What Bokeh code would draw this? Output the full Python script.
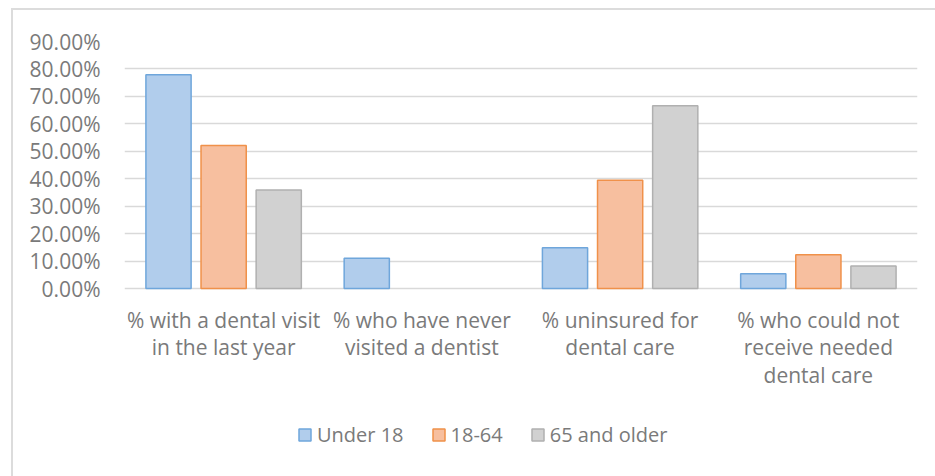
from bokeh.plotting import figure
from bokeh.models import (FactorRange, Range1d, FixedTicker, PrintfTickFormatter,
                          ColumnDataSource, Legend, LegendItem)
from bokeh.transform import dodge
from bokeh.embed import file_html
from bokeh.resources import INLINE

nan = float("nan")
categories = ["% with a dental visit\nin the last year",
              "% who have never\nvisited a dentist",
              "% uninsured for\ndental care",
              "% who could not\nreceive needed\ndental care"]
series_names = ["Under 18", "18-64", "65 and older"]
under_18 = [77.9, 11.1, 14.9, 5.4]
age_18_64 = [52.1, nan, 39.5, 12.3]
age_65_plus = [35.9, nan, 66.6, 8.2]
y_ticks = [0, 10, 20, 30, 40, 50, 60, 70, 80, 90]

FONT = "Open Sans"
GREY_TEXT = "#7a7a7a"
GRID = "#d9d9d9"

src = ColumnDataSource(dict(cat=categories, u18=under_18, a1864=age_18_64, a65=age_65_plus))

# frame: 90% at top, extends below 0 to hold category labels and legend
PX_PER_UNIT = 27.33 / 10.0
frame_h = 476 - 41
y_bottom = 90 - frame_h / PX_PER_UNIT

p = figure(x_range=FactorRange(factors=categories, range_padding=0),
           y_range=Range1d(y_bottom, 90),
           width=924, height=468, output_backend="svg", toolbar_location=None,
           min_border_left=111, min_border_right=20, min_border_top=31, min_border_bottom=0)
p.margin = (8, 0, 0, 11)
p.styles = {"border-left": "2px solid #dcdcdc", "border-top": "2px solid #dcdcdc",
            "box-sizing": "border-box"}

fills = ["#b1cdec", "#f7bf9f", "#d1d1d1"]
lines = ["#6fa6db", "#f0914a", "#b0b0b0"]
fields = ["u18", "a1864", "a65"]
offsets = [-0.278, 0.0, 0.278]
renderers = []
for f, off, fc, lc in zip(fields, offsets, fills, lines):
    r = p.vbar(x=dodge("cat", off, range=p.x_range), top=f, width=0.228, source=src,
               fill_color=fc, line_color=lc, line_width=1.5)
    renderers.append(r)

# category labels below the zero line
label_y = -17 / PX_PER_UNIT
p.text(x=categories, y=[label_y] * len(categories), text=categories,
       text_align="center", text_baseline="top", text_font_size="21px",
       text_font={"value": FONT}, text_color=GREY_TEXT, text_line_height=0.98)

p.outline_line_color = None
p.background_fill_color = "white"
p.border_fill_color = "white"

p.xaxis.visible = False
p.xgrid.grid_line_color = None
p.ygrid.grid_line_color = GRID
p.ygrid.grid_line_width = 1.5
p.ygrid.ticker = FixedTicker(ticks=y_ticks)

p.yaxis.ticker = FixedTicker(ticks=y_ticks)
p.yaxis.formatter = PrintfTickFormatter(format="%.2f%%")
p.yaxis.axis_line_color = None
p.yaxis.major_tick_line_color = None
p.yaxis.minor_tick_line_color = None
p.yaxis.major_tick_out = 0
p.yaxis.major_label_standoff = 24
p.yaxis.major_label_text_font = FONT
p.yaxis.major_label_text_font_size = "21px"
p.yaxis.major_label_text_color = GREY_TEXT

legend = Legend(items=[LegendItem(label=n, renderers=[r]) for n, r in zip(series_names, renderers)],
                orientation="horizontal", location=(173, 30),
                glyph_width=15, glyph_height=15, label_standoff=5, spacing=27,
                padding=0, margin=0, border_line_color=None, background_fill_alpha=0,
                label_text_font=FONT, label_text_font_size="20px", label_text_color=GREY_TEXT)
p.add_layout(legend, "center")

open("out.html", "w").write(file_html(p, INLINE))
